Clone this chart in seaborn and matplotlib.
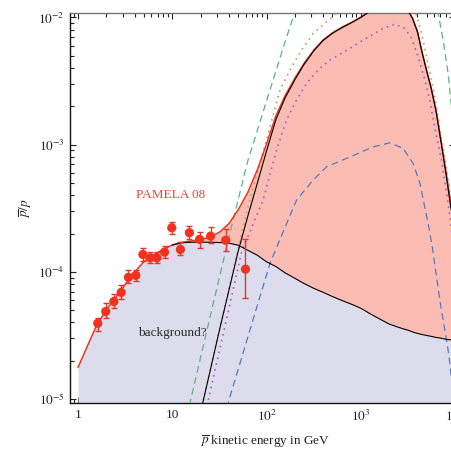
import numpy as np
import matplotlib
matplotlib.use("Agg")
import matplotlib.pyplot as plt
import seaborn as sns
from matplotlib.ticker import LogLocator, NullFormatter, FixedLocator, FixedFormatter

# PAMELA 2008 antiproton / proton ratio (central value, lower and upper error bounds)
pamela_E = [1.62, 1.97, 2.40, 2.87, 3.43, 4.11, 4.88, 5.83, 6.87, 8.28,
            9.88, 12.2, 15.2, 19.5, 25.5, 36.9, 59.8]
pamela_ratio = [3.94e-5, 4.88e-5, 5.85e-5, 6.89e-5, 9.06e-5, 9.38e-5, 1.37e-4, 1.29e-4,
                1.29e-4, 1.43e-4, 2.22e-4, 1.50e-4, 2.03e-4, 1.80e-4, 1.91e-4, 1.77e-4, 1.05e-4]
pamela_lo = [3.43e-5, 4.31e-5, 5.18e-5, 6.14e-5, 8.15e-5, 8.51e-5, 1.21e-4, 1.17e-4,
             1.17e-4, 1.29e-4, 1.99e-4, 1.35e-4, 1.80e-4, 1.54e-4, 1.69e-4, 1.47e-4, 6.21e-5]
pamela_hi = [4.37e-5, 5.66e-5, 6.67e-5, 7.82e-5, 1.03e-4, 1.04e-4, 1.54e-4, 1.44e-4,
             1.44e-4, 1.61e-4, 2.48e-4, 1.72e-4, 2.29e-4, 2.05e-4, 2.25e-4, 2.16e-4, 1.82e-4]

# Astrophysical background and dark-matter signal on a shared energy grid (GeV)
energy = [1, 1.26, 1.58, 2.0, 2.5, 3.2, 4.0, 5.0, 6.3, 8.0,
          10, 12.6, 15.8, 20, 25, 32, 40, 50, 63, 80,
          100, 126, 158, 200, 250, 320, 400, 500, 630, 800,
          1000, 1260, 1580, 2000, 2500, 2800, 3200, 3550, 4000, 4450,
          5000, 5600, 6300, 7100, 8000, 8900, 10000]
background = [1.77e-5, 2.62e-5, 3.81e-5, 5.05e-5, 6.24e-5, 8.04e-5, 1.00e-4, 1.20e-4, 1.36e-4, 1.49e-4,
              1.62e-4, 1.69e-4, 1.71e-4, 1.71e-4, 1.71e-4, 1.70e-4, 1.68e-4, 1.62e-4, 1.48e-4, 1.35e-4,
              1.20e-4, 1.10e-4, 9.8e-5, 8.9e-5, 8.1e-5, 7.4e-5, 6.9e-5, 6.4e-5, 5.96e-5, 5.56e-5,
              5.18e-5, 4.68e-5, 4.27e-5, 3.89e-5, 3.67e-5, 3.57e-5, 3.47e-5, 3.37e-5, 3.28e-5, 3.22e-5,
              3.16e-5, 3.11e-5, 3.05e-5, 3.01e-5, 2.95e-5, 2.92e-5, 2.88e-5]
signal = [7e-10, 1.5e-9, 3e-9, 6.2e-9, 1.3e-8, 2.6e-8, 5.4e-8, 1.1e-7, 2.2e-7, 4.6e-7,
          9.3e-7, 1.9e-6, 3.9e-6, 7.9e-6, 1.62e-5, 3.6e-5, 7.2e-5, 1.45e-4, 2.7e-4, 5.0e-4,
          8.9e-4, 1.58e-3, 2.34e-3, 3.24e-3, 4.27e-3, 5.5e-3, 6.6e-3, 7.5e-3, 8.3e-3, 9.1e-3,
          1.0e-2, 1.12e-2, 1.23e-2, 1.32e-2, 1.32e-2, 1.23e-2, 1.12e-2, 9.8e-3, 7.7e-3, 5.4e-3,
          3.8e-3, 2.75e-3, 1.82e-3, 1.05e-3, 5.96e-4, 3.43e-4, 2.04e-4]

# Alternative model spectra
green_E = [12.6, 15.8, 25.1, 39.8, 63.1, 100, 158, 200, 320, 630, 1580, 3160, 5000, 6620, 7480, 8450, 8950, 10000]
green_y = [4.9e-6, 1.01e-5, 4.37e-5, 1.86e-4, 7.4e-4, 2.2e-3, 6.5e-3, 1.1e-2, 2.2e-2, 4.0e-2,
           5.0e-2, 4.0e-2, 2.5e-2, 1.08e-2, 6.65e-3, 3.64e-3, 2.38e-3, 1.05e-3]
brown_E = [20, 36, 63, 109, 139, 185, 236, 313, 434, 630, 1260, 2000, 2800, 3840, 4420, 4990,
           5640, 6370, 6900, 7800, 8950, 10000]
brown_y = [7.9e-6, 5.3e-5, 3.16e-4, 1.38e-3, 2.69e-3, 4.09e-3, 5.55e-3, 7.5e-3, 9.25e-3, 1.17e-2,
           1.58e-2, 1.74e-2, 1.51e-2, 1.08e-2, 7.5e-3, 4.91e-3, 3.22e-3, 1.99e-3, 1.30e-3, 8.0e-4,
           3.9e-4, 2.1e-4]
purple_E = [20, 24.1, 54.5, 92, 128, 163, 208, 266, 368, 470, 766, 1060, 1730, 2300, 2940, 3460,
            4060, 4790, 5400, 6070, 7190, 8450, 8810, 10000]
purple_y = [5.2e-6, 9.8e-6, 1.44e-4, 3.67e-4, 9.1e-4, 1.56e-3, 2.24e-3, 3.03e-3, 3.98e-3, 4.62e-3,
            5.71e-3, 6.64e-3, 8.2e-3, 8.87e-3, 8.2e-3, 6.86e-3, 4.91e-3, 3.22e-3, 2.24e-3, 1.38e-3,
            7.6e-4, 3.46e-4, 2.71e-4, 1.26e-4]
blue_E = [35, 40.9, 63, 109, 158, 208, 313, 434, 766, 1350, 2040, 2820, 3600, 4240, 5270, 5770,
          6900, 8450, 8810, 10000]
blue_y = [7.0e-6, 1.04e-5, 3.03e-5, 1.17e-4, 2.26e-4, 3.66e-4, 5.27e-4, 6.7e-4, 8.0e-4, 9.6e-4,
          1.035e-3, 9.35e-4, 7.1e-4, 4.97e-4, 2.26e-4, 1.53e-4, 6.0e-5, 2.43e-5, 1.92e-5, 7.9e-6]

x_ticks = [1, 10, 100, 1000, 10000]
x_ticklabels = ["1", "10", r"$10^{2}$", r"$10^{3}$", r"$10^{4}$"]
y_ticks = [1e-5, 1e-4, 1e-3, 1e-2]
y_ticklabels = [r"$10^{-5}$", r"$10^{-4}$", r"$10^{-3}$", r"$10^{-2}$"]

sns.set_style("ticks")
plt.rcParams["font.family"] = ["Liberation Serif", "DejaVu Serif"]
plt.rcParams["mathtext.fontset"] = "stix"

E = np.array(energy)
bg = np.array(background)
total = bg + np.array(signal)

fig = plt.figure(figsize=(4.51, 4.49), dpi=100)
ax = fig.add_axes([70 / 451, 46 / 449, 385 / 451, 390 / 449])
ax.set_xscale("log")
ax.set_yscale("log")

lavender = "#dcdced"
pink = "#fbbdb3"
red = "#e5371c"

# shaded regions: background below, signal excess on top of it
ax.fill_between(E, 1e-7, bg, color=lavender, lw=0, zorder=1)
ax.fill_between(E, bg, total, color=pink, lw=0, zorder=1)

# model curves
sns.lineplot(x=green_E, y=green_y, ax=ax, color="#5bb57a", lw=0.9,
             linestyle=(0, (5.5, 3.5)), zorder=3)
sns.lineplot(x=brown_E, y=brown_y, ax=ax, color="#c49a6c", lw=1.2,
             linestyle=(0, (1, 2.6)), zorder=3)
sns.lineplot(x=purple_E, y=purple_y, ax=ax, color="#b45cc4", lw=1.2,
             linestyle=(0, (1, 2.6)), zorder=3)
sns.lineplot(x=blue_E, y=blue_y, ax=ax, color="#5479bf", lw=0.9,
             linestyle=(0, (5.5, 3.5)), zorder=3)

# total = background + signal
sns.lineplot(x=E, y=total, ax=ax, color=red, lw=1.1, zorder=4)
hi_mask = E >= 10
sns.lineplot(x=E[hi_mask], y=bg[hi_mask], ax=ax, color="black", lw=0.8, zorder=5)
sns.lineplot(x=E, y=np.array(signal), ax=ax, color="black", lw=0.8, zorder=5)

# PAMELA data
p_y = np.array(pamela_ratio)
yerr = [p_y - np.array(pamela_lo), np.array(pamela_hi) - p_y]
ax.errorbar(pamela_E, p_y, yerr=yerr, fmt="none", ecolor="#e2372a", elinewidth=1.0,
            capsize=2.5, capthick=1.0, zorder=6)
sns.scatterplot(x=pamela_E, y=p_y, ax=ax, color="#f0321e", s=44, edgecolor="none",
                zorder=7, legend=False)

ax.text(9.69, 4.02e-4, "PAMELA 08", color="#f0452a", fontsize=9.5,
        ha="center", va="center", zorder=8)
ax.text(9.93, 3.3e-5, "background?", color="#2a2a2a", fontsize=9.5,
        ha="center", va="center", zorder=8)

ax.set_xlim(10 ** -0.085, 1e4)
ax.set_ylim(10 ** -5.031, 10 ** -1.965)

ax.xaxis.set_major_locator(FixedLocator(x_ticks))
ax.xaxis.set_major_formatter(FixedFormatter(x_ticklabels))
ax.yaxis.set_major_locator(FixedLocator(y_ticks))
ax.yaxis.set_major_formatter(FixedFormatter(y_ticklabels))
ax.xaxis.set_minor_locator(LogLocator(base=10, subs=np.arange(2, 10), numticks=20))
ax.yaxis.set_minor_locator(LogLocator(base=10, subs=np.arange(2, 10), numticks=20))
ax.xaxis.set_minor_formatter(NullFormatter())
ax.yaxis.set_minor_formatter(NullFormatter())

ax.tick_params(which="both", direction="in", top=True, right=True, width=0.8,
               color="#222222", labelsize=9.5, labelcolor="#222222")
ax.tick_params(which="major", length=4.5)
ax.tick_params(which="minor", length=3.2)
ax.tick_params(axis="x", pad=4.5)
ax.tick_params(axis="y", pad=4)

for side in ["left", "bottom"]:
    ax.spines[side].set_color("#111111")
    ax.spines[side].set_linewidth(1.0)
for side in ["top", "right"]:
    ax.spines[side].set_color("#777777")
    ax.spines[side].set_linewidth(1.0)

ax.set_xlabel(r"$\overline{p}$ kinetic energy in GeV", fontsize=9.5, color="#222222")
ax.set_ylabel(r"$\overline{p}/p$", fontsize=9.5, color="#222222")
ax.xaxis.set_label_coords((265 - 70) / 385, -(442 - 403) / 390)
ax.xaxis.label.set_va("center")
ax.yaxis.set_label_coords((26 - 70) / 385, (403 - 208) / 390)
ax.yaxis.label.set_va("center")

fig.savefig("out.png", dpi=100)
